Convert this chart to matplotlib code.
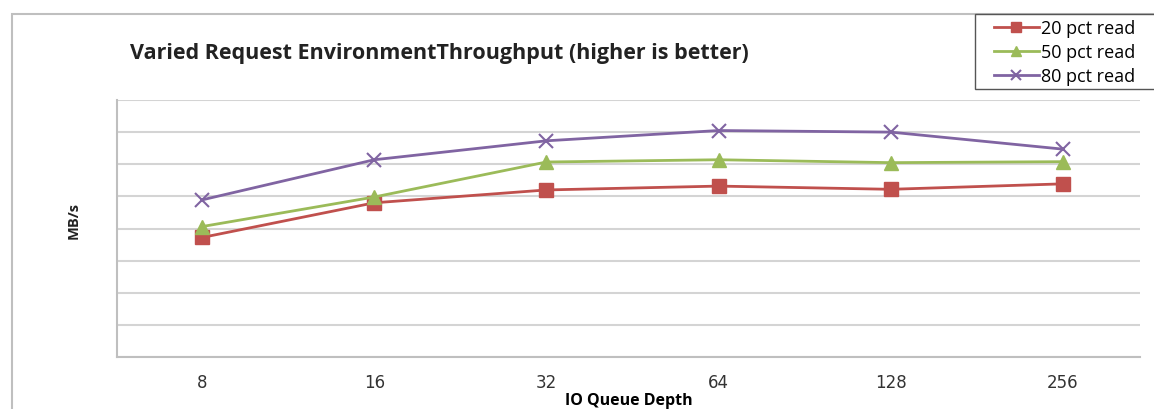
import matplotlib.pyplot as plt
from matplotlib.patches import Rectangle
import numpy as np

# data (MB/s, no scale shown)
depths = ["8", "16", "32", "64", "128", "256"]
read20 = [3.72, 4.80, 5.20, 5.32, 5.22, 5.39]
read50 = [4.06, 4.98, 6.07, 6.14, 6.05, 6.08]
read80 = [4.89, 6.14, 6.73, 7.05, 7.00, 6.47]

W, H = 1154, 409
fig = plt.figure(figsize=(W / 100, H / 100), dpi=100)
plt.rcParams["font.family"] = ["Open Sans", "DejaVu Sans"]

# plot area in pixels: left 117, right 1140, top 100, bottom 357
left, right = 117, 1140
ax = fig.add_axes([left / W, 1 - 357 / H, (right - left) / W, (357 - 100) / H])

x = np.arange(len(depths))
ax.plot(x, read20, color="#C0504D", lw=2, marker="s", ms=10, label="20 pct read")
ax.plot(x, read50, color="#9BBB59", lw=2, marker="^", ms=10, label="50 pct read")
ax.plot(x, read80, color="#8064A2", lw=2, marker="x", ms=10, mew=1.5, label="80 pct read")

# first category at 202px, last at 1063px
step = (1063 - 202) / 5
ax.set_xlim(-(202 - left) / step, 5 + (right - 1063) / step)
ax.set_ylim(0, 8)
ax.set_yticks(np.arange(0, 9, 1))
ax.set_yticklabels([])
ax.set_xticks(x)
ax.set_xticklabels(depths, fontsize=12, fontfamily="Liberation Sans Narrow")
ax.tick_params(axis="both", length=0, colors="#333333")
ax.tick_params(axis="x", pad=12)
ax.grid(axis="y", color="#D4D4D4", lw=1.5)
ax.set_axisbelow(True)
for s in ["top", "right"]:
    ax.spines[s].set_visible(False)
for s in ["left", "bottom"]:
    ax.spines[s].set_color("#BFBFBF")
    ax.spines[s].set_linewidth(1.5)

ax.set_xlabel("IO Queue Depth", fontsize=11.5, fontweight="bold", labelpad=1)
fig.text(74 / W, 1 - 220 / H, "MB/s", fontsize=10.5, fontweight="bold",
         rotation=90, ha="center", va="center", color="#222222")

fig.text(130 / W, 1 - 53 / H, "Varied Request EnvironmentThroughput (higher is better)",
         fontsize=15.5, fontweight="bold", va="center", ha="left", color="#222222")

# chart area border
fig.add_artist(Rectangle((12 / W, -0.05), 1.2, 1 - 14 / H + 0.05, transform=fig.transFigure,
                         fill=False, ec="#BFBFBF", lw=1.5))
# legend box runs off the right edge like in the original
fig.add_artist(Rectangle((975 / W, 1 - 89 / H), 0.2, (89 - 14) / H, transform=fig.transFigure,
                         fc="white", ec="#555555", lw=1, zorder=3))
leg = fig.legend(loc="upper left", bbox_to_anchor=(990 / W, 1 - 16 / H), fontsize=13,
                 frameon=False, handlelength=2.5, handletextpad=0.15, borderpad=0.2,
                 labelspacing=0.33, borderaxespad=0, markerscale=0.65)
leg.set_zorder(4)

fig.savefig("out.png", dpi=100)
